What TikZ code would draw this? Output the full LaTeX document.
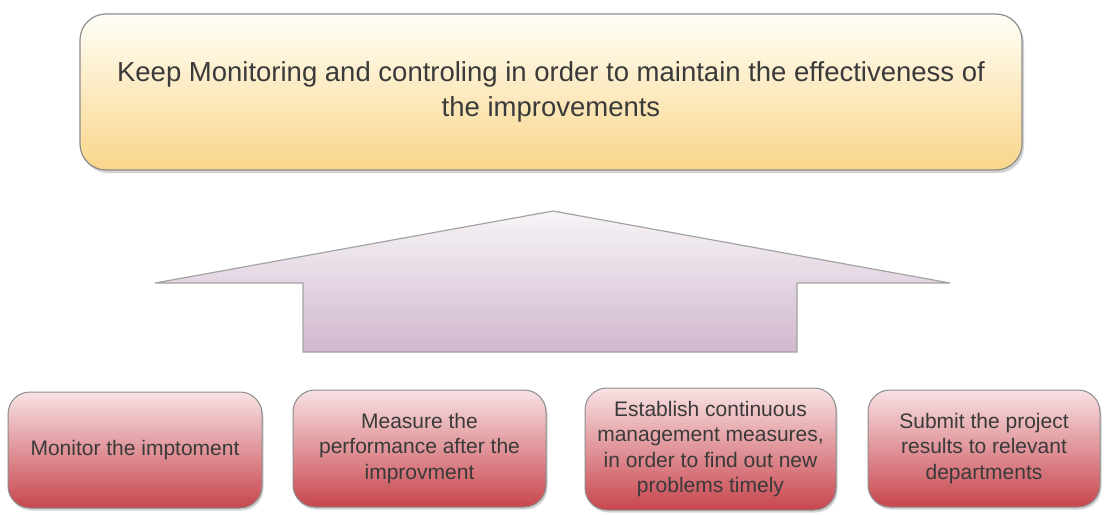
\documentclass[tikz,border=0pt]{standalone}
\usepackage{fontspec}
\setmainfont{Liberation Sans}
\usetikzlibrary{shadows}
\definecolor{txt}{HTML}{3A3A3A}
\definecolor{edge}{HTML}{8C8C8C}
\begin{document}
\begin{tikzpicture}[x=1pt,y=-1pt,
  goalbox/.style={draw=edge, line width=1.2pt, rounded corners=26pt,
    top color=white!60!yellow!8, bottom color={rgb,255:red,249;green,213;blue,138},
    minimum width=942pt, minimum height=156pt, align=center, text=txt,
    font=\fontsize{27.5}{35}\selectfont,
    drop shadow={shadow xshift=2pt, shadow yshift=-3pt, opacity=0.35}},
  taskbox/.style={draw=edge, line width=1pt, rounded corners=22pt,
    top color={rgb,255:red,248;green,226;blue,228}, bottom color={rgb,255:red,200;green,70;blue,78},
    align=center, text=txt, font=\fontsize{21}{25.5}\selectfont, inner sep=2pt,
    drop shadow={shadow xshift=1.5pt, shadow yshift=-2.5pt, opacity=0.35}},
  upshape/.style={draw=edge!80, line width=1.2pt,
    top color={rgb,255:red,247;green,244;blue,247}, bottom color={rgb,255:red,208;green,184;blue,206}}
]
\useasboundingbox (0,0) rectangle (1105,514);

% goal at the top
\node[goalbox] (goal) at (551,92)
  {Keep Monitoring and controling in order to maintain the effectiveness of\\the improvements};

% broad upward arrow
\coordinate (tip) at (553,211);
\coordinate (lw) at (155,283);
\coordinate (rw) at (950,283);
\path[upshape] (tip) -- (rw) -- (797,283) -- (797,352) -- (303,352) -- (303,283) -- (lw) -- cycle;

% four actions along the bottom
\node[taskbox, minimum width=254pt, minimum height=116pt] (t1) at (135,450)
  {Monitor the imptoment};
\node[taskbox, minimum width=253pt, minimum height=117pt] (t2) at (419.5,448.5)
  {Measure the\\performance after the\\improvment};
\node[taskbox, minimum width=251pt, minimum height=122pt] (t3) at (710.5,449)
  {Establish continuous\\management measures,\\in order to find out new\\problems timely};
\node[taskbox, minimum width=232pt, minimum height=117pt] (t4) at (984,448.5)
  {Submit the project\\results to relevant\\departments};
\end{tikzpicture}
\end{document}
